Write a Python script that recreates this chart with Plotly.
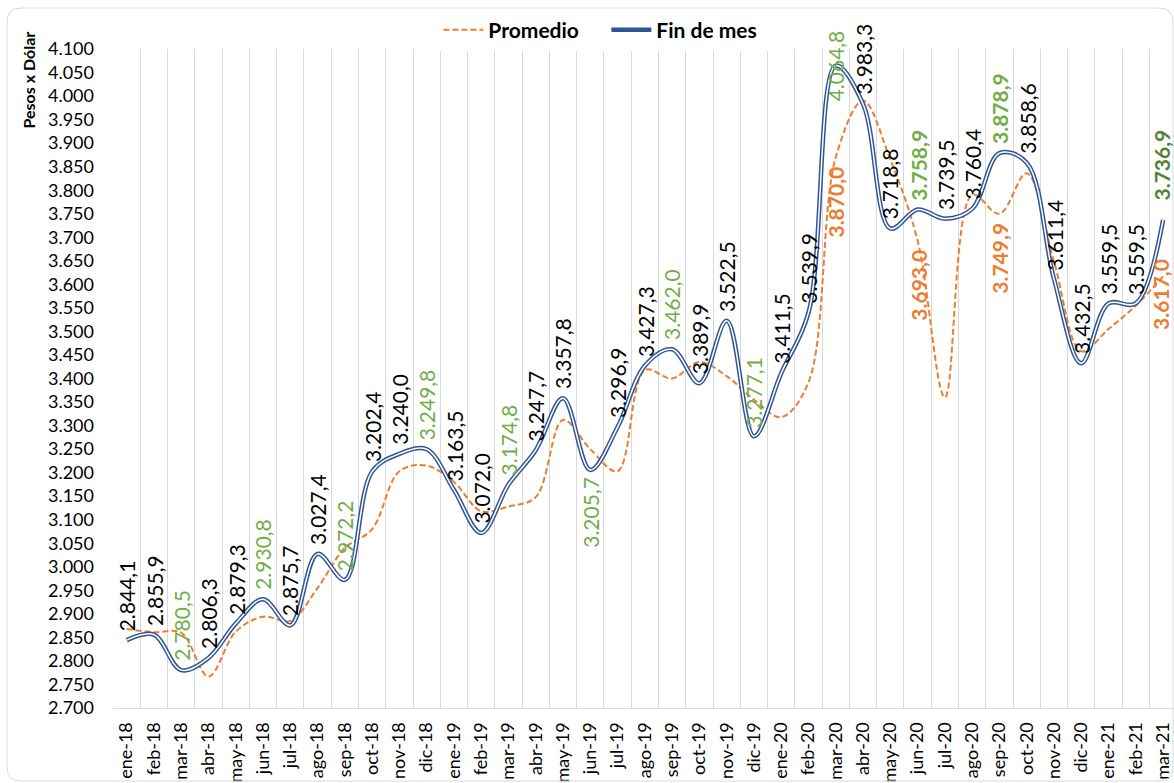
import plotly.graph_objects as go

meses = ["ene-18", "feb-18", "mar-18", "abr-18", "may-18", "jun-18", "jul-18", "ago-18", "sep-18",
         "oct-18", "nov-18", "dic-18", "ene-19", "feb-19", "mar-19", "abr-19", "may-19", "jun-19",
         "jul-19", "ago-19", "sep-19", "oct-19", "nov-19", "dic-19", "ene-20", "feb-20", "mar-20",
         "abr-20", "may-20", "jun-20", "jul-20", "ago-20", "sep-20", "oct-20", "nov-20", "dic-20",
         "ene-21", "feb-21", "mar-21"]

fin_de_mes = [2844.1, 2855.9, 2780.5, 2806.3, 2879.3, 2930.8, 2875.7, 3027.4, 2972.2, 3202.4,
              3240.0, 3249.8, 3163.5, 3072.0, 3174.8, 3247.7, 3357.8, 3205.7, 3296.9, 3427.3,
              3462.0, 3389.9, 3522.5, 3277.1, 3411.5, 3539.9, 4064.8, 3983.3, 3718.8, 3758.9,
              3739.5, 3760.4, 3878.9, 3858.6, 3611.4, 3432.5, 3559.5, 3559.5, 3736.9]

promedio = [2868, 2861, 2860, 2767, 2862, 2894, 2885, 2955, 3040, 3080,
            3203, 3215, 3180, 3118, 3128, 3148, 3312, 3250, 3203, 3418,
            3400, 3435, 3405, 3355, 3318, 3392, 3870.0, 3990, 3865, 3693.0,
            3360, 3790, 3749.9, 3836, 3648, 3458, 3505, 3555, 3617.0]

# meses con etiqueta destacada
meses_verde = ["mar-18", "jun-18", "sep-18", "dic-18", "mar-19", "jun-19", "sep-19", "dic-19", "mar-20"]
meses_verde_bold = ["jun-20", "sep-20"]
meses_verde_osc = ["mar-21"]
meses_promedio = ["mar-20", "jun-20", "sep-20", "mar-21"]

FONT = "Lato"
L, T, B, W, H = 113, 49, 75, 1174, 783
PW, PH = W - L, H - T - B


def fmt(v):
    s = f"{v:,.1f}"
    return s.replace(",", "X").replace(".", ",").replace("X", ".")


def px_x(px):
    return (px - L) / PW


def px_y(py):
    return (H - B - py) / PH


fig = go.Figure()

fig.add_trace(go.Scatter(x=meses, y=promedio, name="Promedio", mode="lines",
                         line=dict(color="#ED7D31", width=2, dash="6px,3px", shape="spline", smoothing=1)))
fig.add_trace(go.Scatter(x=meses, y=fin_de_mes, name="Fin de mes", mode="lines",
                         line=dict(color="#2F5597", width=4.5, shape="spline", smoothing=1)))
fig.add_trace(go.Scatter(x=meses, y=fin_de_mes, mode="lines", showlegend=False, hoverinfo="skip",
                         line=dict(color="white", width=1.5, shape="spline", smoothing=1)))

for m, v in zip(meses, fin_de_mes):
    color, weight = "black", "normal"
    if m in meses_verde:
        color = "#70AD47"
    elif m in meses_verde_bold:
        color, weight = "#70AD47", "bold"
    elif m in meses_verde_osc:
        color, weight = "#548235", "bold"
    anchor, shift, dx = "bottom", 8, 0
    if m == "jun-19":
        anchor, shift = "top", -6
    elif m == "mar-20":
        anchor, shift = "middle", 0
    elif m == "mar-21":
        shift, dx = 18, -2
    fig.add_annotation(x=m, y=v, text=fmt(v), textangle=-90, showarrow=False,
                       xanchor="center", yanchor=anchor, yshift=shift, xshift=dx, borderpad=0,
                       font=dict(family=FONT, size=21, color=color, weight=weight))

for m, v in zip(meses, promedio):
    if m in meses_promedio:
        shift, dx = (18, -2) if m == "mar-21" else (-8, 0)
        fig.add_annotation(x=m, y=v, text=fmt(v), textangle=-90, showarrow=False,
                           xanchor="center", yanchor="top", yshift=shift, xshift=dx, borderpad=0,
                           font=dict(family=FONT, size=21, color="#ED7D31", weight="bold"))

fig.add_annotation(xref="paper", yref="paper", x=px_x(28.5), y=px_y(80), text="Pesos x Dólar",
                   textangle=-90, showarrow=False, xanchor="center", yanchor="middle",
                   font=dict(family=FONT, size=16, color="black", weight="bold"))

# borde redondeado del grafico
x0, x1, y0, y1, r = 7, 1173, 8, 781, 14
rx, ry = r / PW, r / PH
a, b, c, d = px_x(x0), px_x(x1), px_y(y0), px_y(y1)
path = (f"M {a + rx},{c} L {b - rx},{c} Q {b},{c} {b},{c - ry} L {b},{d + ry} Q {b},{d} {b - rx},{d} "
        f"L {a + rx},{d} Q {a},{d} {a},{d + ry} L {a},{c - ry} Q {a},{c} {a + rx},{c} Z")
fig.add_shape(type="path", path=path, xref="paper", yref="paper",
              line=dict(color="#D9D9D9", width=1), layer="above")

fig.update_layout(
    width=W, height=H,
    margin=dict(l=L, r=0, t=T, b=B),
    plot_bgcolor="white", paper_bgcolor="white",
    separators=",.",
    font=dict(family=FONT, color="black"),
    legend=dict(orientation="h", x=0.465, xanchor="center", y=px_y(30), yanchor="middle",
                font=dict(family=FONT, size=21, weight="bold"), itemwidth=40,
                entrywidth=113),
    xaxis=dict(type="category", tickson="boundaries", range=[-0.5, 38.4], automargin=False,
               showgrid=True, gridcolor="#D9D9D9", gridwidth=1,
               showline=True, linecolor="#D9D9D9", ticks="",
               tickangle=-90, tickfont=dict(family=FONT, size=18, color="black"),
               ticklabelstandoff=6),
    yaxis=dict(range=[2700, 4100], tick0=2700, dtick=50, tickformat=",d", automargin=False,
               showgrid=False, zeroline=False, showline=False, ticks="",
               tickfont=dict(family=FONT, size=18, color="black"), ticklabelstandoff=18),
)

fig.write_html("out.html", config={"displayModeBar": False},
               post_script="document.body.style.margin='0px';")
